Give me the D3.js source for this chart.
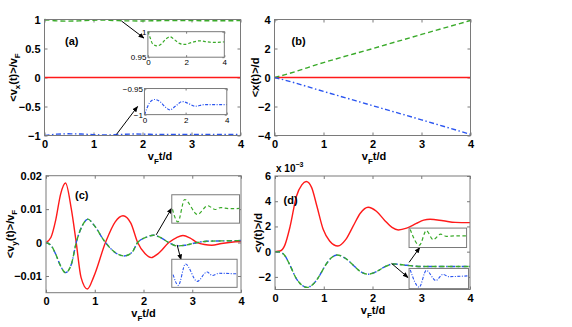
<!DOCTYPE html>
<html>
<head>
<meta charset="utf-8">
<script src="https://cdn.jsdelivr.net/npm/d3@7"></script>
<style>
  body { margin: 0; background: #fff; }
  svg text { font-family: "Liberation Sans", Arial, sans-serif; }
</style>
</head>
<body>
<div id="chart"></div>
<script>
// ---- data ----
// (a) <vx(t)>/vF
var vxGreenT = [0, 0.1, 0.25, 0.47, 0.7, 0.95, 1.16, 1.4, 1.65, 1.92, 2.3, 2.7, 3.1, 3.5, 4];
var vxGreen  = [1.0, 0.99, 0.976, 0.972, 0.976, 0.986, 0.99, 0.984, 0.977, 0.975, 0.979, 0.982, 0.98, 0.979, 0.98];
var vxBlueT  = [0, 0.1, 0.25, 0.49, 0.75, 1.0, 1.24, 1.5, 1.84, 2.15, 2.46, 2.9, 3.4, 4];
var vxBlue   = [-1.0, -0.99, -0.977, -0.971, -0.975, -0.985, -0.991, -0.984, -0.975, -0.979, -0.984, -0.981, -0.981, -0.981];
var vxRedT   = [0, 4];
var vxRed    = [0, 0];

// (b) <x(t)>/d
var xT     = [0, 0.2, 1, 2, 3, 4];
var xGreen = [0, 0.18, 1.03, 1.99, 2.97, 3.93];
var xBlue  = [0, -0.17, -0.96, -1.94, -2.92, -3.92];
var xRed   = [0, 0, 0, 0, 0, 0];

// (c) <vy(t)>/vF
var vyRedT = [0, 0.1, 0.2, 0.3, 0.4, 0.52, 0.62, 0.72, 0.85, 0.98, 1.22, 1.42, 1.58, 1.74, 1.88, 2.03, 2.16, 2.3, 2.52, 2.68, 2.81, 2.95, 3.1, 3.25, 3.4, 3.6, 3.8, 4];
var vyRed  = [0, 0.0015, 0.0068, 0.0145, 0.0178, 0.0100, 0, -0.0105, -0.0139, -0.0102, 0, 0.0062, 0.008, 0.0058, 0, -0.0033, -0.0045, -0.0033, 0, 0.0015, 0.0021, 0.0014, 0, -0.0006, -0.0008, -0.0003, 0.0001, 0.0003];
var vyGreenT = [0, 0.1, 0.2, 0.3, 0.4, 0.52, 0.62, 0.75, 0.86, 0.98, 1.22, 1.44, 1.6, 1.76, 1.88, 2.06, 2.2, 2.35, 2.52, 2.68, 2.85, 3.1, 3.3, 3.6, 4];
var vyGreen  = [0, -0.0008, -0.0035, -0.007, -0.009, -0.0065, 0, 0.0052, 0.007, 0.0053, 0, -0.0032, -0.004, -0.003, 0, 0.0016, 0.0022, 0.0015, 0, -0.001, -0.0008, 0, 0.0004, 0.0005, 0.0006];
var vyBlue   = [0, -0.0008, -0.0035, -0.007, -0.009, -0.0065, 0, 0.0052, 0.007, 0.0053, 0, -0.0032, -0.004, -0.003, 0, 0.0016, 0.0022, 0.0015, 0, -0.001, -0.0008, 0, 0.0004, 0.0005, 0.0006];
// (c) zoomed tails (relative units)
var vyGreenZoomT = [2.416, 2.544, 2.704, 3.008, 3.248, 3.424, 3.552, 3.76, 4.0];
var vyGreenZoom  = [-0.02, -0.96, 0.70, -0.40, 0.24, -0.04, 0.10, 0.02, 0.04];
var vyBlueZoomT  = [2.432, 2.56, 2.736, 3.024, 3.264, 3.392, 3.552, 4.0];
var vyBlueZoom   = [-0.1, -0.9, 0.7, -0.6, 0.1, -0.16, 0, -0.04];

// (d) <y(t)>/d  (x 1e-3)
var yRedT = [0, 0.1, 0.2, 0.31, 0.44, 0.55, 0.64, 0.75, 0.86, 0.99, 1.12, 1.29, 1.45, 1.6, 1.75, 1.91, 2.08, 2.25, 2.4, 2.53, 2.7, 2.9, 3.05, 3.18, 3.45, 3.7, 4];
var yRed  = [0, 0.05, 0.5, 2.0, 4.4, 5.3, 5.56, 5.1, 3.6, 1.75, 0.85, 0.45, 0.95, 2.0, 3.05, 3.52, 3.2, 2.48, 1.92, 1.72, 1.86, 2.24, 2.5, 2.57, 2.45, 2.32, 2.3];
var yGreenT = [0, 0.1, 0.2, 0.31, 0.44, 0.55, 0.66, 0.78, 0.9, 1.05, 1.15, 1.27, 1.45, 1.6, 1.75, 1.91, 2.1, 2.25, 2.43, 2.7, 3.0, 3.5, 4];
var yGreen  = [0, -0.03, -0.3, -1.1, -2.15, -2.65, -2.83, -2.59, -1.98, -0.99, -0.51, -0.26, -0.54, -1.05, -1.57, -1.79, -1.54, -1.2, -0.98, -1.08, -1.18, -1.18, -1.17];
var yBlue   = [0, -0.03, -0.3, -1.1, -2.15, -2.65, -2.83, -2.59, -1.98, -0.99, -0.51, -0.26, -0.54, -1.05, -1.57, -1.79, -1.54, -1.2, -0.98, -1.08, -1.18, -1.18, -1.17];
// (d) zoomed tails (relative units)
var yGreenZoomT = [2.432, 2.688, 2.88, 3.072, 3.28, 3.44, 3.68, 4.0];
var yGreenZoom  = [0.9, -0.8, 0.76, -0.2, 0.4, 0.16, 0.2, 0.2];
var yBlueZoomT  = [2.432, 2.672, 2.864, 3.12, 3.312, 3.472, 4.0];
var yBlueZoom   = [0.9, -0.9, 0.84, -0.2, 0.44, 0.2, 0.28];

// ticks
var tTicks   = [0, 1, 2, 3, 4];
var vxTicks  = [-1, -0.5, 0, 0.5, 1];
var xTicks   = [-4, -2, 0, 2, 4];
var vyTicks  = [-0.01, 0, 0.01, 0.02];
var yTicks   = [-2, 0, 2, 4, 6];

// ---- styles ----
var RED = "#ff1a1a", GREEN = "#3aaa2a", BLUE = "#2a55f0", AXIS = "#7a7a7a";
var styles = {
  red:   { color: RED,   dash: null,            width: 1.4 },
  green: { color: GREEN, dash: "5,3",           width: 1.4 },
  blue:  { color: BLUE,  dash: "5,2.5,1.5,2.5", width: 1.4 }
};

var svg = d3.select("#chart").append("svg")
    .attr("width", 572)
    .attr("height", 327);

svg.append("defs").append("marker")
    .attr("id", "arrow")
    .attr("viewBox", "0 0 10 10")
    .attr("refX", 9).attr("refY", 5)
    .attr("markerWidth", 6).attr("markerHeight", 6)
    .attr("orient", "auto")
  .append("path")
    .attr("d", "M0,1 L10,5 L0,9 z")
    .attr("fill", "#000");

function fmtMinus(d) { return String(d).replace("-", "\u2212"); }

// Create a panel: scales + box + ticks on all sides
function makePanel(r, xDom, yDom, xt, yt, yFmt, fontSize, bold, labels) {
  var x = d3.scaleLinear().domain(xDom).range([r.left, r.right]);
  var y = d3.scaleLinear().domain(yDom).range([r.bottom, r.top]);
  var g = svg.append("g");
  var fs = fontSize + "px", fw = bold ? "bold" : "normal";
  var tl = bold ? 3 : 2;

  var axes = [
    ["b", d3.axisBottom(x).tickValues(xt).tickSizeInner(-tl).tickSizeOuter(0).tickPadding(bold ? 5 : 2.5)
        .tickFormat(labels ? fmtMinus : ""), r.bottom, null],
    ["t", d3.axisTop(x).tickValues(xt).tickSizeInner(-tl).tickSizeOuter(0).tickFormat(""), r.top, null],
    ["l", d3.axisLeft(y).tickValues(yt).tickSizeInner(-tl).tickSizeOuter(0).tickPadding(bold ? 4 : 1.5)
        .tickFormat(labels ? (yFmt || fmtMinus) : ""), null, r.left],
    ["r", d3.axisRight(y).tickValues(yt).tickSizeInner(-tl).tickSizeOuter(0).tickFormat(""), null, r.right]
  ];
  axes.forEach(function(a) {
    var ag = g.append("g")
        .attr("transform", a[2] !== null ? "translate(0," + a[2] + ")" : "translate(" + a[3] + ",0)")
        .call(a[1]);
    ag.select(".domain").remove();
    ag.selectAll("line").attr("stroke", AXIS);
    ag.selectAll("text").attr("fill", "#000").style("font-size", fs).style("font-weight", fw)
        .style("font-family", "'Liberation Sans', Arial, sans-serif");
  });

  var lines = g.append("g");
  g.append("rect")
      .attr("x", r.left).attr("y", r.top)
      .attr("width", r.right - r.left).attr("height", r.bottom - r.top)
      .attr("fill", "none").attr("stroke", AXIS).attr("stroke-width", 1);
  return { g: g, lines: lines, x: x, y: y, r: r };
}

function drawSeries(p, t, v, st) {
  var pts = t.map(function(d, i) { return [d, v[i]]; });
  var line = d3.line()
      .curve(d3.curveMonotoneX)
      .x(function(d) { return p.x(d[0]); })
      .y(function(d) { return p.y(d[1]); });
  p.lines.append("path")
      .datum(pts)
      .attr("d", line)
      .attr("fill", "none")
      .attr("stroke", st.color)
      .attr("stroke-width", st.width)
      .attr("stroke-dasharray", st.dash);
}

function arrow(p, from, to) {
  p.g.append("line")
      .attr("x1", p.x(from[0])).attr("y1", p.y(from[1]))
      .attr("x2", p.x(to[0])).attr("y2", p.y(to[1]))
      .attr("stroke", "#000").attr("stroke-width", 1)
      .attr("marker-end", "url(#arrow)");
}

// Inset placed in the parent's data coordinates
function inset(p, tBox, vBox, xDom, yDom, xt, yt, labels) {
  var r = { left: p.x(tBox[0]), right: p.x(tBox[1]), top: p.y(vBox[0]), bottom: p.y(vBox[1]) };
  svg.append("rect")
      .attr("x", r.left).attr("y", r.top)
      .attr("width", r.right - r.left).attr("height", r.bottom - r.top)
      .attr("fill", "#fff");
  return makePanel(r, xDom, yDom, xt, yt, null, 8, false, labels);
}

function panelLabel(text, px, py) {
  svg.append("text").attr("x", px).attr("y", py)
      .style("font-size", "11px").style("font-weight", "bold").text(text);
}

// x label "vF t/d", baseline placed below the tick labels
function xLabel(p, cx) {
  var t = svg.append("text").attr("x", cx).attr("y", p.r.bottom + 24.5).attr("text-anchor", "middle")
      .style("font-size", "11px").style("font-weight", "bold");
  t.append("tspan").text("v");
  t.append("tspan").attr("dy", 3.5).style("font-size", "8px").text("F");
  t.append("tspan").attr("dy", -3.5).text("t/d");
}

function yLabel(bx, cy, parts) {
  var t = svg.append("text")
      .attr("transform", "translate(" + bx + "," + cy + ") rotate(-90)")
      .attr("text-anchor", "middle")
      .style("font-size", "11px").style("font-weight", "bold");
  var shift = 0;
  parts.forEach(function(pt) {
    var s = t.append("tspan").text(pt[0]);
    var want = pt[1] ? 3.5 : 0;
    if (want !== shift) { s.attr("dy", want - shift); shift = want; }
    if (pt[1]) s.style("font-size", "8px");
  });
}

// ---- (a) ----
var pa = makePanel({ left: 44.5, right: 240.5, top: 19.5, bottom: 135.5 },
    [0, 4], [-1, 1], tTicks, vxTicks, null, 11, true, true);
drawSeries(pa, vxRedT, vxRed, styles.red);
drawSeries(pa, vxGreenT, vxGreen, styles.green);
drawSeries(pa, vxBlueT, vxBlue, styles.blue);
arrow(pa, [1.57, 0.975], [2.03, 0.68]);
arrow(pa, [1.47, -0.98], [1.9, -0.5]);
var pai1 = inset(pa, [2.11, 3.67], [0.79, 0.35], [0, 4], [0.95, 1], [0, 2, 4], [0.95, 1], true);
drawSeries(pai1, vxGreenT, vxGreen, { color: GREEN, dash: "3,2", width: 1.2 });
var pai2 = inset(pa, [2.04, 3.72], [-0.19, -0.64], [0, 4], [-1, -0.95], [0, 2, 4], [-1, -0.95], true);
drawSeries(pai2, vxBlueT, vxBlue, { color: BLUE, dash: "3,1.5,1,1.5", width: 1.2 });
panelLabel("(a)", 65, 45);
xLabel(pa, 160);
yLabel(16.5, 77.5, [["<v", 0], ["x", 1], ["(t)>/v", 0], ["F", 1]]);

// ---- (b) ----
var pb = makePanel({ left: 274.5, right: 470.5, top: 19.5, bottom: 135.5 },
    [0, 4], [-4, 4], tTicks, xTicks, null, 11, true, true);
drawSeries(pb, xT, xRed, styles.red);
drawSeries(pb, xT, xGreen, styles.green);
drawSeries(pb, xT, xBlue, styles.blue);
panelLabel("(b)", 291.5, 45);
xLabel(pb, 374);
yLabel(259, 77.5, [["<x(t)>/d", 0]]);

// ---- (c) ----
var pc = makePanel({ left: 46, right: 241, top: 175.7, bottom: 292.7 },
    [0, 4], [-0.015, 0.02], tTicks, vyTicks, null, 11, true, true);
drawSeries(pc, vyRedT, vyRed, styles.red);
drawSeries(pc, vyGreenT, vyBlue, styles.blue);
drawSeries(pc, vyGreenT, vyGreen, styles.green);
arrow(pc, [2.26, 0.0023], [2.58, 0.0103]);
arrow(pc, [2.69, -0.0007], [2.77, -0.0052]);
var pci1 = inset(pc, [2.58, 3.97], [0.0143, 0.0058], [2.4, 4], [-1.05, 1.05], [], [], false);
drawSeries(pci1, vyGreenZoomT, vyGreenZoom, { color: GREEN, dash: "3.5,2.5", width: 1.2 });
var pci2 = inset(pc, [2.58, 3.92], [-0.005, -0.0134], [2.4, 4], [-1.05, 1.05], [], [], false);
drawSeries(pci2, vyBlueZoomT, vyBlueZoom, { color: BLUE, dash: "3,1.5,1,1.5", width: 1.1 });
panelLabel("(c)", 75, 199);
xLabel(pc, 143.5);
yLabel(13.5, 234, [["<v", 0], ["y", 1], ["(t)>/v", 0], ["F", 1]]);

// ---- (d) ----
var pd = makePanel({ left: 275, right: 470, top: 176, bottom: 289.5 },
    [0, 4], [-3, 6], tTicks, yTicks, null, 11, true, true);
drawSeries(pd, yRedT, yRed, styles.red);
drawSeries(pd, yGreenT, yBlue, styles.blue);
drawSeries(pd, yGreenT, yGreen, styles.green);
arrow(pd, [2.75, -0.85], [2.97, 0.33]);
arrow(pd, [2.39, -0.93], [2.73, -2.05]);
var pdi1 = inset(pd, [2.75, 3.93], [1.87, 0.33], [2.4, 4], [-1.05, 1.05], [], [], false);
drawSeries(pdi1, yGreenZoomT, yGreenZoom, { color: GREEN, dash: "3.5,2.5", width: 1.2 });
var pdi2 = inset(pd, [2.75, 3.97], [-1.33, -2.93], [2.4, 4], [-1.05, 1.05], [], [], false);
drawSeries(pdi2, yBlueZoomT, yBlueZoom, { color: BLUE, dash: "3,1.5,1,1.5", width: 1.1 });
panelLabel("(d)", 283.5, 204);
xLabel(pd, 373);
yLabel(261.5, 233, [["<y(t)>/d", 0]]);

var ex = svg.append("text").attr("x", 276).attr("y", 172)
    .style("font-size", "10px").style("font-weight", "bold");
ex.append("tspan").text("x 10");
ex.append("tspan").attr("dy", -5).style("font-size", "7px").text("\u22123");
</script>
</body>
</html>
